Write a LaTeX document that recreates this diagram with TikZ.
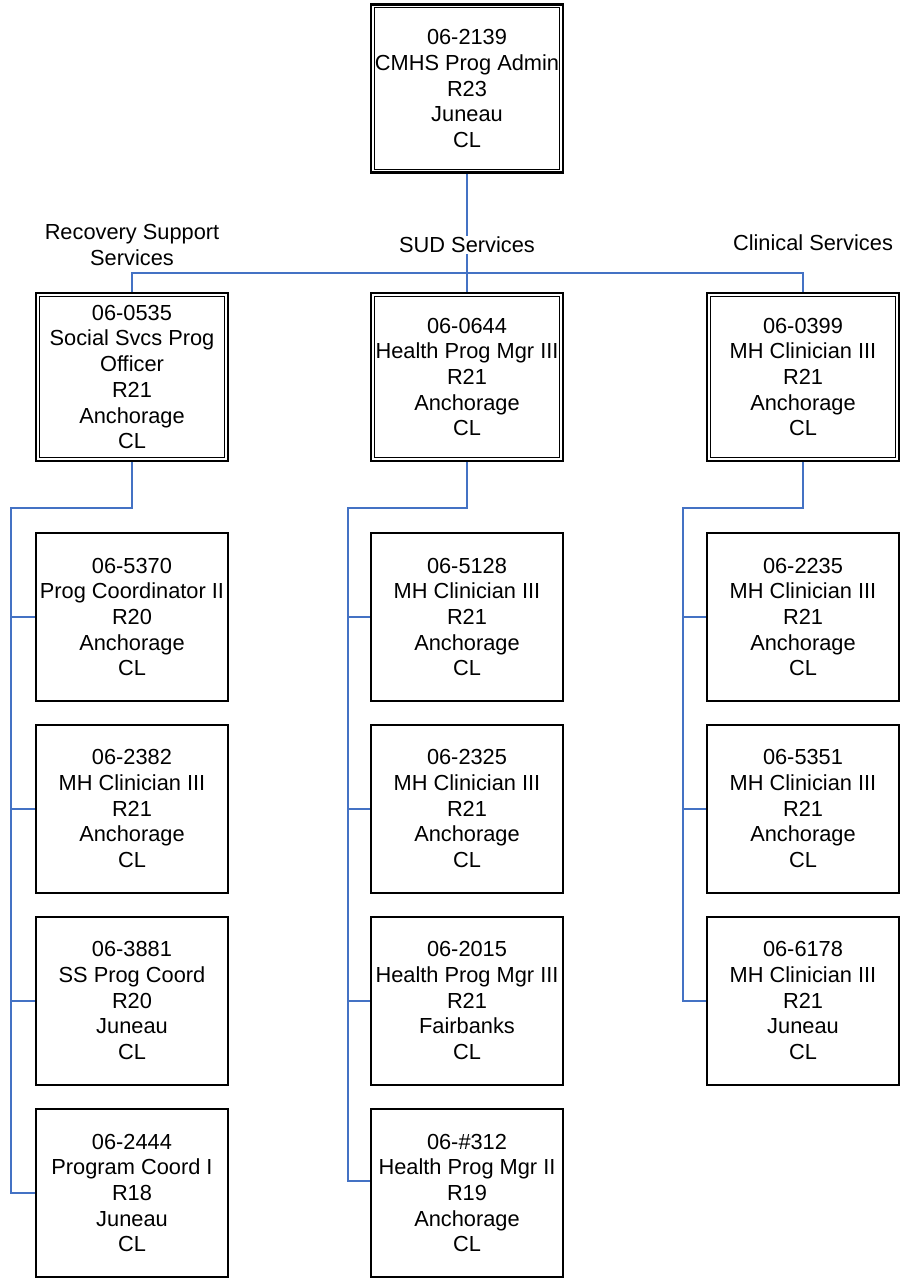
\documentclass[tikz,border=0pt]{standalone}
\usepackage{fontspec}
\setmainfont{Liberation Sans}
\definecolor{connblue}{HTML}{4472C4}
\begin{document}
\begin{tikzpicture}[x=1pt,y=-1pt,
  txt/.style={font=\fontsize{21.8}{25.7}\selectfont, align=center},
  box/.style={txt, draw, line width=2pt, minimum width=192pt, minimum height=168pt, inner sep=0pt},
  dbox/.style={box, line width=2.5pt},
  conn/.style={draw=connblue, line width=2pt},
  lbl/.style={txt, inner sep=1pt}]
\useasboundingbox[fill=white] (0,0) rectangle (903,1283);

% top
\node[dbox] (top) at (467,88.5) {06-2139\\CMHS Prog Admin\\R23\\Juneau\\CL};
% managers
\node[dbox] (rss) at (132,377) {06-0535\\Social Svcs Prog\\Officer\\R21\\Anchorage\\CL};
\node[dbox] (sud) at (467,377) {06-0644\\Health Prog Mgr III\\R21\\Anchorage\\CL};
\node[dbox] (cs) at (803,377) {06-0399\\MH Clinician III\\R21\\Anchorage\\CL};
\foreach \n in {top,rss,sud,cs}
  \draw[line width=1.2pt] ([xshift=4.5pt,yshift=-4.5pt]\n.north west) rectangle ([xshift=-4.5pt,yshift=4.5pt]\n.south east);

% left column
\node[box] (c11) at (132,617) {06-5370\\Prog Coordinator II\\R20\\Anchorage\\CL};
\node[box] (c12) at (132,808.5) {06-2382\\MH Clinician III\\R21\\Anchorage\\CL};
\node[box] (c13) at (132,1000.5) {06-3881\\SS Prog Coord\\R20\\Juneau\\CL};
\node[box] (c14) at (132,1193) {06-2444\\Program Coord I\\R18\\Juneau\\CL};
% middle column
\node[box] (c21) at (467,617) {06-5128\\MH Clinician III\\R21\\Anchorage\\CL};
\node[box] (c22) at (467,808.5) {06-2325\\MH Clinician III\\R21\\Anchorage\\CL};
\node[box] (c23) at (467,1000.5) {06-2015\\Health Prog Mgr III\\R21\\Fairbanks\\CL};
\node[box] (c24) at (467,1193) {06-\#312\\Health Prog Mgr II\\R19\\Anchorage\\CL};
% right column
\node[box] (c31) at (803,617) {06-2235\\MH Clinician III\\R21\\Anchorage\\CL};
\node[box] (c32) at (803,808.5) {06-5351\\MH Clinician III\\R21\\Anchorage\\CL};
\node[box] (c33) at (803,1000.5) {06-6178\\MH Clinician III\\R21\\Juneau\\CL};

% connectors
\coordinate (bus) at (0,273);
\draw[conn] (top.south) -- (sud.north);
\draw[conn] (rss.north) -- (rss.north |- bus) -| (cs.north);

\coordinate (le) at (11,508);
\coordinate (me) at (348,508);
\coordinate (re) at (683,508);
\draw[conn] (rss.south) |- (le) -- (le |- c14.west) -- (c14.west);
\foreach \c in {c11,c12,c13} \draw[conn] (le |- \c.west) -- (\c.west);

\coordinate (c24in) at ([yshift=12pt]c24.west);
\draw[conn] (sud.south) |- (me) -- (me |- c24in) -- (c24in);
\foreach \c in {c21,c22,c23} \draw[conn] (me |- \c.west) -- (\c.west);

\draw[conn] (cs.south) |- (re) -- (re |- c33.west) -- (c33.west);
\foreach \c in {c31,c32} \draw[conn] (re |- \c.west) -- (\c.west);

% labels
\node[lbl] (lrss) at (132,245) {Recovery Support\\Services};
\node[lbl, fill=white] (lsud) at (467,245) {SUD Services};
\node[lbl] (lcs) at (813,243) {Clinical Services};
\end{tikzpicture}
\end{document}
